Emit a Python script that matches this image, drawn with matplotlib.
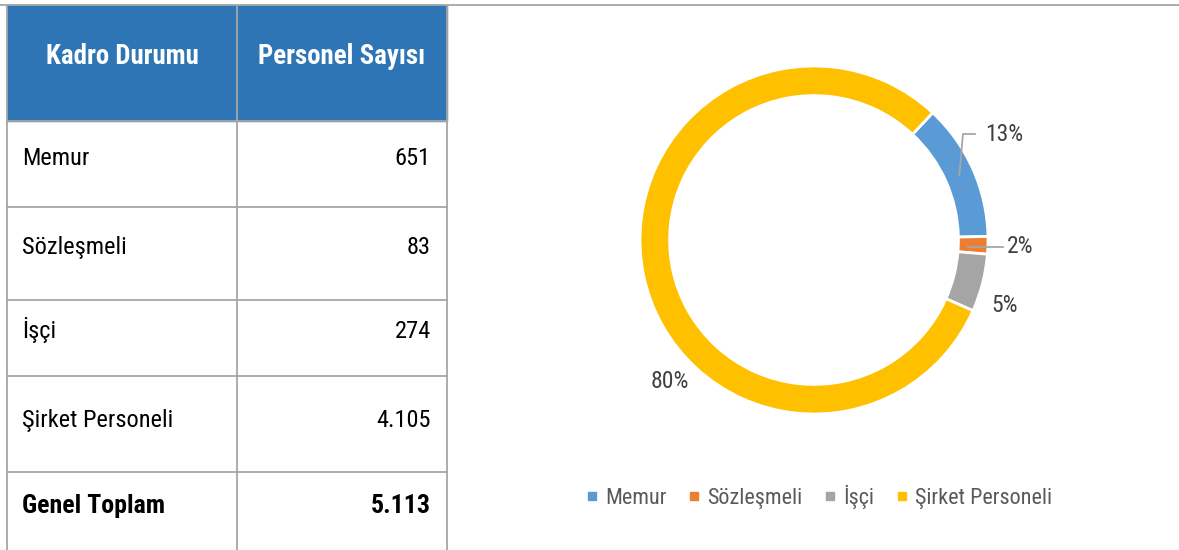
import numpy as np
import matplotlib.pyplot as plt
from matplotlib import font_manager
from matplotlib.patches import Rectangle
from matplotlib.lines import Line2D

# =====================================================
# Data
# =====================================================

header = ["Kadro Durumu", "Personel Sayısı"]
categories = ["Memur", "Sözleşmeli", "İşçi", "Şirket Personeli"]
counts = [651, 83, 274, 4105]
total_label = "Genel Toplam"
colors = ["#5B9BD5", "#ED7D31", "#A5A5A5", "#FFC000"]

# =====================================================
# Fonts
# =====================================================

names = {f.name for f in font_manager.fontManager.ttflist}
if "Roboto Condensed" in names:
    FONT = "Roboto Condensed"
    HEAD_FS, BODY_FS, TOTAL_FS, LEG_FS, LAB_FS = 19.4, 17.6, 18.6, 15.9, 17
else:
    FONT = "Liberation Sans"
    HEAD_FS, BODY_FS, TOTAL_FS, LEG_FS, LAB_FS = 16, 16, 16, 14, 13
plt.rcParams["font.family"] = [FONT, "Liberation Sans", "DejaVu Sans"]

def tr_num(v):
    return f"{v:,}".replace(",", ".")

fig = plt.figure(figsize=(11.79, 5.5), dpi=100)

# =====================================================
# Table (pixel coordinates)
# =====================================================

tab = fig.add_axes([0, 0, 1, 1])
tab.set_xlim(0, 1179)
tab.set_ylim(550, 0)
tab.axis("off")

border = "#A6A6A6"
col_x = [7, 237, 447]
row_y = [5, 121, 207, 300, 376, 472, 560]

tab.add_patch(Rectangle((col_x[0], row_y[0]), col_x[2] - col_x[0],
                        row_y[1] - row_y[0], color="#2E75B6", zorder=1))

tab.plot([0, 1179], [4.5, 4.5], color=border, lw=1.3, zorder=2)
for y in row_y[1:-1]:
    tab.plot([col_x[0], col_x[2]], [y, y], color=border, lw=1.3, zorder=2)
for x in col_x:
    tab.plot([x, x], [row_y[0], 550], color=border, lw=1.3, zorder=2)

for i, h in enumerate(header):
    xc = (col_x[i] + col_x[i + 1]) / 2
    tab.text(xc, 64, h, ha="center", va="baseline", color="white",
             fontsize=HEAD_FS, fontweight="bold", zorder=3)

rows = list(zip(categories, counts)) + [(total_label, sum(counts))]
baselines = [165, 254, 338, 427, 513]
for k, ((name, val), yb) in enumerate(zip(rows, baselines)):
    bold = k == len(rows) - 1
    fs = TOTAL_FS if bold else BODY_FS
    fw = "bold" if bold else "normal"
    tab.text(22, yb, name, ha="left", va="baseline", color="black",
             fontsize=fs, fontweight=fw)
    tab.text(431, yb, tr_num(val), ha="right", va="baseline", color="black",
             fontsize=fs, fontweight=fw)

# =====================================================
# Donut
# =====================================================

cx, cy, R = 814, 240, 174
ax = fig.add_axes([(cx - R) / 1179, 1 - (cy + R) / 550, 2 * R / 1179, 2 * R / 550])

wedges, _ = ax.pie(
    counts,
    colors=colors,
    startangle=47,
    counterclock=False,
    radius=1,
    wedgeprops=dict(width=0.17, edgecolor="white", linewidth=2),
)
ax.set_xlim(-1, 1)
ax.set_ylim(-1, 1)
ax.set_aspect("equal")

pct = [round(100 * c / sum(counts)) for c in counts]
mid_r = 1 - 0.17 / 2
lab_col = "#404040"
lead_col = "#A6A6A6"

def mid_point(w):
    a = np.deg2rad((w.theta1 + w.theta2) / 2)
    return mid_r * np.cos(a), mid_r * np.sin(a)

# 13% with elbow leader
mx, my = mid_point(wedges[0])
ax.plot([mx, 0.856, 0.925], [my, 0.609, 0.609], color=lead_col, lw=1.3,
        clip_on=False)
ax.text(0.983, 0.609, f"{pct[0]}%", ha="left", va="center",
        fontsize=LAB_FS, color=lab_col, clip_on=False)

# 2% with straight leader
mx, my = mid_point(wedges[1])
ax.plot([mx - 0.03, 1.085], [my - 0.01, my - 0.01], color=lead_col, lw=1.3,
        clip_on=False)
ax.text(1.11, my - 0.01, f"{pct[1]}%", ha="left", va="center",
        fontsize=LAB_FS, color=lab_col, clip_on=False)

ax.text(1.098, -0.374, f"{pct[2]}%", ha="center", va="center",
        fontsize=LAB_FS, color=lab_col, clip_on=False)
ax.text(-0.828, -0.816, f"{pct[3]}%", ha="center", va="center",
        fontsize=LAB_FS, color=lab_col, clip_on=False)

# =====================================================
# Legend
# =====================================================

handles = [Line2D([], [], marker="s", linestyle="none", markersize=6,
                  markerfacecolor=c, markeredgecolor=c) for c in colors]
leg = fig.legend(handles, categories, loc="center",
                 bbox_to_anchor=(819 / 1179, 1 - 497 / 550), ncol=4,
                 frameon=False, fontsize=LEG_FS, handlelength=0.5,
                 handletextpad=0.35, columnspacing=1.0)
for t in leg.get_texts():
    t.set_color("#595959")

fig.savefig("out.png", dpi=100, facecolor="white")
plt.close()
